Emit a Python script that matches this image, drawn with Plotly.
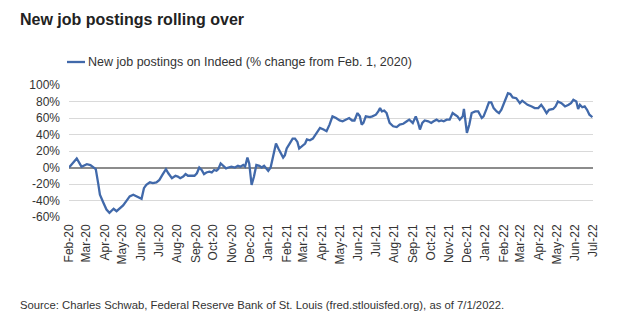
import plotly.graph_objects as go
from datetime import date, timedelta

# Days since Feb 1, 2020 and % change in new job postings
days = [0, 13, 21, 30, 36, 42, 45, 49, 52, 58, 63, 68, 73, 75, 80, 85, 91, 96, 102, 108,
        113, 119, 122, 126, 130, 136, 141, 147, 152, 157, 163, 167, 173, 179, 183, 187, 192,
        196, 200, 206, 211, 215, 219, 223, 227, 231, 236, 240, 244, 248, 251, 255, 260, 264,
        268, 273, 279, 284, 288, 293, 296, 300, 303, 307, 311, 315, 320, 324, 328, 332, 335,
        339, 343, 348, 352, 356, 360, 363, 366, 371, 376, 380, 384, 387, 391, 397, 400, 405,
        410, 416, 422, 428, 433, 438, 443, 449, 455, 460, 466, 471, 476, 480, 485, 489, 492,
        495, 499, 506, 510, 516, 520, 523, 526, 530, 534, 539, 545, 551, 556, 562, 568, 572,
        578, 583, 587, 590, 594, 598, 604, 609, 613, 618, 622, 626, 630, 635, 640, 645, 649,
        653, 657, 662, 664, 666, 669, 673, 677, 683, 688, 694, 697, 702, 706, 710, 714, 719,
        723, 727, 733, 738, 742, 746, 752, 758, 762, 766, 771, 778, 783, 789, 794, 798, 803,
        807, 814, 818, 822, 828, 834, 840, 844, 848, 853, 856, 859, 863, 867, 871, 875, 880]
values = [0, 11, 1, 4, 3, 0, -2, -19, -33, -43, -51, -55, -52, -50, -53, -50, -46, -41, -35, -33,
          -35, -37, -38, -25, -21, -18, -19, -18, -15, -9, -2, -7, -13, -10, -11, -13, -11,
          -8, -10, -10, -10, -7, 0, -3, -8, -6, -5, -6, -3, -4, -2, 5, 1, -1,
          0, 1, 0, 2, 1, 3, 1, 12, 5, -21, -11, 3, 2, 0, 2, -2, -4,
          0, 12, 29, 23, 17, 12, 15, 23, 29, 35, 35, 31, 23, 25, 29, 34, 33,
          35, 41, 48, 46, 44, 52, 62, 60, 57, 56, 58, 60, 57, 57, 66, 62, 52,
          54, 62, 61, 62, 64, 68, 72, 68, 69, 66, 54, 50, 49, 52, 53, 56, 58,
          54, 62, 54, 46, 54, 57, 56, 54, 56, 58, 56, 57, 56, 58, 58, 66, 64,
          62, 58, 62, 71, 60, 42, 52, 66, 68, 68, 60, 62, 71, 79, 79, 72, 68,
          66, 70, 80, 90, 89, 85, 84, 78, 81, 79, 76, 74, 72, 72, 76, 72, 66,
          70, 71, 74, 80, 78, 74, 76, 78, 82, 80, 71, 76, 73, 74, 70, 64, 61]

start = date(2020, 2, 1)
dates = [(start + timedelta(days=d)).isoformat() for d in days]

y_ticks = [-60, -40, -20, 0, 20, 40, 60, 80, 100]
y_labels = ["-60%", "-40%", "-20%", "0%", "20%", "40%", "60%", "80%", "100%"]

title = "New job postings rolling over"
series_name = "New job postings on Indeed (% change from Feb. 1, 2020)"
source = "Source: Charles Schwab, Federal Reserve Bank of St. Louis (fred.stlouisfed.org), as of 7/1/2022."

line_color = "#4169aa"
font_family = "Liberation Sans, Arial, sans-serif"

fig = go.Figure()
fig.add_trace(go.Scatter(x=dates, y=values, mode="lines", name=series_name,
                         line=dict(color=line_color, width=2.3), showlegend=False))

fig.update_layout(
    width=622, height=335,
    margin=dict(l=69, r=29, t=85, b=118),
    paper_bgcolor="white", plot_bgcolor="white",
    font=dict(family=font_family, color="#333333", size=12),
    xaxis=dict(
        type="date",
        range=["2020-02-01", "2022-07-01"],
        tick0="2020-02-01", dtick="M1", tickformat="%b-%y",
        tickangle=-90, showgrid=False, zeroline=False, showline=False,
        ticks="", tickfont=dict(size=12, color="#333333"), ticklabelstandoff=4,
    ),
    yaxis=dict(
        range=[-60, 100], tickvals=y_ticks, ticktext=y_labels,
        showgrid=True, gridcolor="#d9d9d9", gridwidth=1,
        zeroline=True, zerolinecolor="#8c8c8c", zerolinewidth=2,
        showline=False, ticks="", tickfont=dict(size=12, color="#333333"),
        ticklabelstandoff=8,
    ),
    shapes=[dict(type="line", xref="paper", yref="paper",
                 x0=(67 - 69) / 524, x1=(85 - 69) / 524,
                 y0=(335 - 62 - 118) / 132, y1=(335 - 62 - 118) / 132,
                 line=dict(color=line_color, width=2.3))],
    annotations=[
        dict(text="<b>" + title + "</b>", xref="paper", yref="paper",
             x=(18 - 69) / 524, y=(335 - 19 - 118) / 132, xanchor="left", yanchor="middle",
             showarrow=False, font=dict(size=16, color="#222222")),
        dict(text=series_name, xref="paper", yref="paper",
             x=(86 - 69) / 524, y=(335 - 62 - 118) / 132, xanchor="left", yanchor="middle",
             showarrow=False, font=dict(size=12.5, color="#333333")),
        dict(text=source, xref="paper", yref="paper",
             x=(18 - 69) / 524, y=(335 - 305 - 118) / 132, xanchor="left", yanchor="middle",
             showarrow=False, font=dict(size=11.3, color="#333333")),
    ],
)

fig.write_html("out.html")
